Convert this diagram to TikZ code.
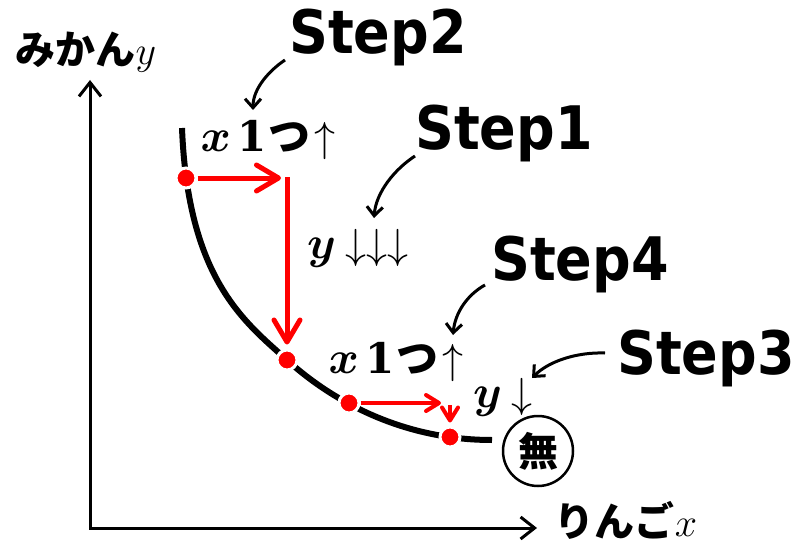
\documentclass[tikz,border=0pt]{standalone}
\usepackage{fix-cm}
\usepackage{amsmath}
\usepackage[no-math]{fontspec}
\setmainfont{DejaVu Sans}
\newfontfamily\jpfont{Noto Sans CJK JP}
\newfontfamily\stepfont{DejaVu Sans Bold}[FakeStretch=0.9]
\newfontfamily\digitfont{DejaVu Serif Bold}
\usetikzlibrary{arrows.meta}
\newcommand{\var}[1]{{\fontsize{46}{50}\selectfont$\boldsymbol{#1}$}}
\newcommand{\one}{{\digitfont\fontsize{42}{46}\selectfont 1}}

\begin{document}
\begin{tikzpicture}[x=1pt, y=-1pt]
        \tikzstyle{axis} = [line width=3pt, {Straight Barb[length=14pt, width=22pt]}-{Straight Barb[length=14pt, width=22pt]}]
        \tikzstyle{demand} = [line width=6pt]
        \tikzstyle{dot} = [circle, fill=red, draw=white, line width=3pt, inner sep=0pt, minimum size=20pt]
        \tikzstyle{bigmove} = [red, line width=5pt, -{Straight Barb[length=22pt, width=26pt, round]}]
        \tikzstyle{smallmove} = [red, line width=4pt, -{Straight Barb[length=13pt, width=16pt, round]}]
        \tikzstyle{steptitle} = [font=\stepfont\fontsize{60}{66}\selectfont, inner sep=0pt]
        \tikzstyle{change} = [font=\jpfont\bfseries\fontsize{42}{46}\selectfont, inner sep=0pt]
        \tikzstyle{axislabel} = [font=\jpfont\bfseries\fontsize{40}{44}\selectfont, inner sep=0pt]
        \tikzstyle{pointer} = [line width=3pt, -{Straight Barb[length=9pt, width=16pt]}]
        \tikzstyle{none} = [circle, draw=black, line width=2.5pt, inner sep=0pt, minimum size=70pt, font=\jpfont\bfseries\fontsize{40}{44}\selectfont]

        \useasboundingbox (0,0) rectangle (801,551);

        % axes
        \coordinate (origin) at (90,528);
        \coordinate (ytip) at (90,80);
        \coordinate (xtip) at (537,528);
        \draw[axis] (ytip) -- (origin) -- (xtip);
        \node (mikan) [axislabel] at (86,52) {みかん$y$};
        \node (ringo) [axislabel] at (626,520) {りんご$x$};

        % curve and points
        \coordinate (top) at (182,128);
        \coordinate (mid) at (287,360);
        \coordinate (tail) at (492,440);
        \draw[demand] (top) .. controls (188,280) and (245,322) .. (mid) .. controls (330,399) and (400,440) .. (tail);
        \node (p1) [dot] at (186,178) {};
        \node (p2) [dot] at (287,360) {};
        \node (p3) [dot] at (349,403) {};
        \node (p4) [dot] at (450,437) {};

        % red steps
        \coordinate (turn1) at (287,178);
        \coordinate (turn2) at (450,403);
        \draw[bigmove] (p1) -- ([xshift=-6pt]turn1);
        \draw[bigmove, shorten >=4pt] ([yshift=1pt]turn1) -- (p2);
        \draw[smallmove] (p3) -- ([xshift=-9pt]turn2);
        \draw[smallmove, shorten >=3pt] ([yshift=-2pt]turn2) -- (p4);

        % texts on the steps
        \node (move1) [change] at (268,140) {\var{x}\hspace{6pt}\one\hspace{2pt}つ\hspace{4pt}$\uparrow$};
        \node (drop1) [change] at (358,248) {\var{y}\hspace{10pt}$\downarrow\downarrow\downarrow$};
        \node (move2) [change] at (396,362) {\var{x}\hspace{6pt}\one\hspace{2pt}つ\hspace{4pt}$\uparrow$};
        \node (drop2) [change] at (503,397) {\var{y}\hspace{10pt}$\downarrow$};
        \node (nothing) [none] at (538,451) {無};

        % step titles
        \node (step2) [steptitle] at (378,37) {Step2};
        \node (step1) [steptitle] at (504,133) {Step1};
        \node (step4) [steptitle] at (580,264) {Step4};
        \node (step3) [steptitle] at (706,358) {Step3};

        \draw[pointer] ([shift={(-93,23)}]step2.center) .. controls +(-15,10) and +(0,-22) .. ([shift={(-15,-30)}]move1.center);
        \draw[pointer] ([shift={(-89,23)}]step1.center) .. controls +(-20,13) and +(2,-26) .. ([shift={(16,-30)}]drop1.center);
        \draw[pointer] ([shift={(-95,21)}]step4.center) .. controls +(-18,10) and +(2,-22) .. ([shift={(57,-27)}]move2.center);
        \draw[pointer] ([shift={(-101,-5)}]step3.center) .. controls +(-30,-1) and +(16,-16) .. ([shift={(29,-19)}]drop2.center);
    \end{tikzpicture}
\end{document}
